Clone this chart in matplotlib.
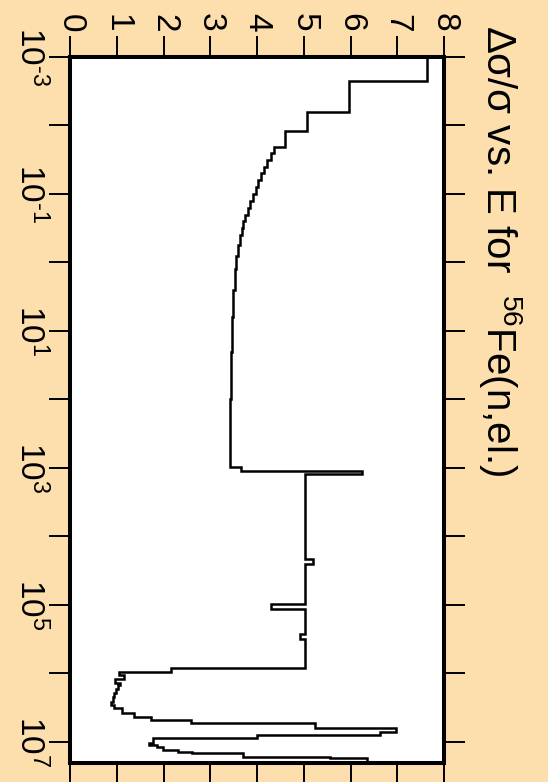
import numpy as np
import matplotlib.pyplot as plt

plt.rcParams['font.family'] = ['Liberation Sans', 'DejaVu Sans']
plt.rcParams['mathtext.fontset'] = 'custom'
plt.rcParams['mathtext.rm'] = 'Liberation Sans'
plt.rcParams['mathtext.it'] = 'Liberation Sans:italic'
plt.rcParams['mathtext.default'] = 'regular'

# log10(E) bin edges and relative uncertainty (%) in each bin
log_e_edges = [-3.0, -2.65, -2.20, -1.92, -1.69, -1.60, -1.50, -1.40, -1.30, -1.20,
               -1.10, -1.00, -0.90, -0.80, -0.70, -0.60, -0.50, -0.40, -0.25, -0.10,
               0.10, 0.40, 0.80, 1.30, 2.00, 2.50, 2.985, 3.04, 3.09, 4.33,
               4.40, 4.99, 5.06, 5.42, 5.50, 5.92, 5.973, 6.022, 6.085, 6.134,
               6.168, 6.23, 6.29, 6.35, 6.412, 6.46, 6.508, 6.572, 6.631, 6.679,
               6.727, 6.796, 6.854, 6.898, 6.946, 7.009, 7.044, 7.08, 7.117, 7.14,
               7.165, 7.214, 7.238, 7.307]
rel_unc = [7.64, 5.97, 5.06, 4.60, 4.37, 4.29, 4.22, 4.15, 4.09,
           4.03, 3.97, 3.91, 3.85, 3.80, 3.75, 3.71, 3.67, 3.63, 3.59,
           3.56, 3.52, 3.49, 3.47, 3.45, 3.43, 3.42, 3.65, 6.24, 5.03,
           5.20, 5.03, 4.29, 5.03, 4.91, 5.03, 2.15, 1.04, 1.16, 0.97,
           1.07, 1.03, 0.99, 0.95, 0.91, 0.87, 0.94, 1.12, 1.37, 1.73,
           2.59, 5.24, 6.97, 6.63, 3.99, 1.78, 1.70, 1.87, 1.98, 2.30,
           2.62, 3.70, 5.56, 6.36]

x_ticks = [0, 1, 2, 3, 4, 5, 6, 7, 8]
y_exps = list(range(-3, 8))


def exp_label(e):
    if e % 2 == 0:
        return ''
    if e < 0:
        return r'$10^{\text{-}%d}$' % (-e)
    return '$10^{%d}$' % e


y_labels = [exp_label(e) for e in y_exps]
title = '\u0394\u03c3/\u03c3 vs. E for  $^{56}$Fe(n,el.)'

bg = '#fddead'
fig = plt.figure(figsize=(5.48, 7.82), dpi=100, facecolor=bg)
ax = fig.add_axes([70 / 548, 1 - 763 / 782, 374 / 548, 706 / 782])
ax.set_facecolor('white')

energy_edges = 10.0 ** np.array(log_e_edges)
ax.stairs(rel_unc, energy_edges, orientation='horizontal', baseline=None,
          color='black', lw=1.8)

ax.set_yscale('log')
ax.set_xlim(0, 8)
ax.set_ylim(10 ** 7.307, 1e-3)

ax.set_xticks(x_ticks)
ax.set_xticklabels([str(t) for t in x_ticks], rotation=-90)
ax.set_yticks([10.0 ** e for e in y_exps])
ax.set_yticklabels(y_labels, rotation=-90, va='center')
ax.yaxis.set_minor_locator(plt.NullLocator())

ax.tick_params(axis='x', which='major', direction='out', length=15, width=1.4,
               top=True, bottom=True, labeltop=True, labelbottom=False,
               labelsize=24, pad=3)
ax.tick_params(axis='y', which='major', direction='out', length=15, width=1.4,
               left=True, right=True, labelleft=True, labelright=False,
               labelsize=24, pad=1)
for s in ax.spines.values():
    s.set_linewidth(2.9)

fig.text(500 / 548, 1 - 25 / 782, title, rotation=-90, ha='center', va='top',
         fontsize=29)

fig.savefig('out.png', dpi=100, facecolor=bg)
